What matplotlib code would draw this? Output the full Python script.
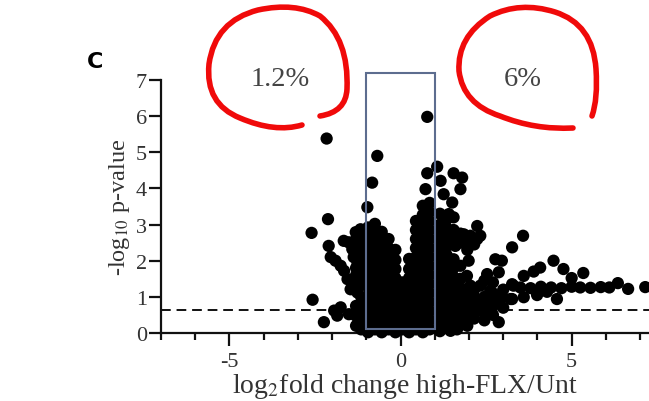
import matplotlib
matplotlib.use("Agg")
import matplotlib.pyplot as plt
from matplotlib.patches import Rectangle, PathPatch
from matplotlib.path import Path
from matplotlib.ticker import MultipleLocator

plt.rcParams['font.family'] = ['Liberation Serif', 'DejaVu Serif']
plt.rcParams['mathtext.fontset'] = 'stix'
plt.rcParams['axes.unicode_minus'] = False

# scattered genes left of the central box (log2 FC, -log10 p)
left_x = [-2.16, -2.12, -2.6, -2.1, -2.04, -1.9, -1.75, -1.65, -1.55, -1.46,
          -1.66, -1.52, -1.41, -1.37, -1.26, -1.22, -1.41, -1.37, -1.26, -1.31,
          -1.17, -2.57, -2.24, -1.94, -1.75, -1.85, -1.51, -1.31, -1.12, -1.12,
          -1.07, -0.83, -0.68, -0.97]
left_y = [5.38, 3.15, 2.77, 2.41, 2.1, 2.0, 1.86, 1.72, 1.49, 1.21,
          2.55, 2.51, 2.32, 2.1, 1.96, 1.77, 1.44, 1.26, 1.12, 2.79,
          2.87, 0.92, 0.3, 0.62, 0.71, 0.48, 0.52, 0.48, 0.86, 0.58,
          0.3, 4.16, 4.9, 3.48]

# dense non-significant core, listed column by column
core_cols = [
    (-1.3, [0.2, 0.75, 1.6, 1.8, 2.3, 2.6]),
    (-1.15, [0.1, 0.35, 0.6, 1.0, 1.35, 1.6, 1.9, 2.2, 2.5, 2.75]),
    (-0.95, [0.02, 0.27, 0.52, 0.77, 1.02, 1.27, 1.52, 1.77, 2.02, 2.27, 2.52, 2.77, 2.92]),
    (-0.75, [0.1, 0.35, 0.6, 0.85, 1.1, 1.35, 1.6, 1.85, 2.1, 2.35, 2.6, 2.85, 3.02]),
    (-0.55, [0.02, 0.27, 0.52, 0.77, 1.02, 1.27, 1.52, 1.77, 2.02, 2.27, 2.52, 2.8]),
    (-0.35, [0.1, 0.35, 0.6, 0.85, 1.1, 1.35, 1.6, 1.85, 2.1, 2.35, 2.6]),
    (-0.15, [0.02, 0.27, 0.52, 0.77, 1.02, 1.27, 1.52, 1.77, 2.02, 2.3]),
    (0.05, [0.1, 0.35, 0.6, 0.85, 1.1, 1.4]),
    (0.25, [0.02, 0.27, 0.52, 0.77, 1.02, 1.27, 1.52, 1.77, 2.05]),
    (0.45, [0.1, 0.35, 0.6, 0.85, 1.1, 1.35, 1.6, 1.85, 2.1, 2.35, 2.6, 2.85, 3.1]),
    (0.65, [0.02, 0.27, 0.52, 0.77, 1.02, 1.27, 1.52, 1.77, 2.02, 2.27, 2.52, 2.77, 3.02, 3.27, 3.52]),
    (0.85, [0.1, 0.35, 0.6, 0.85, 1.1, 1.35, 1.6, 1.85, 2.1, 2.35, 2.6, 2.85, 3.1, 3.35, 3.6]),
    (1.15, [0.05, 0.25, 0.5, 0.75, 1.0, 1.25, 1.5, 1.75, 2.0, 2.25, 2.5, 2.75, 3.0, 3.3]),
    (1.35, [0.15, 0.4, 0.65, 0.9, 1.15, 1.4, 1.65, 1.9, 2.15, 2.4, 2.65, 2.9, 3.15]),
    (1.55, [0.3, 0.55, 0.8, 1.05, 1.3, 1.55, 1.8, 2.6, 2.85]),
    (1.75, [0.25, 0.5, 0.75, 1.0, 1.25, 1.5, 2.5, 2.75]),
    (1.95, [0.2, 0.7, 0.95, 1.2, 2.3, 2.55]),
    (2.15, [0.4, 0.8, 1.2, 2.45]),
    (2.45, [0.35, 0.55, 1.0, 1.45]),
    (2.7, [0.5, 0.75, 1.1, 1.4]),
    (3.0, [0.7, 1.2]),
]

# scattered genes right of the box
right_x = [0.78, 1.07, 0.78, 1.17, 1.55, 1.8, 0.73, 1.75, 1.26, 1.51,
           1.41, 1.55, 2.24, 1.85, 2.04, 2.24, 2.33, 3.26, 3.58, 1.99,
           2.77, 2.87, 2.53, 2.33, 2.62, 2.92, 3.21, 3.3, 2.87, 1.46,
           1.65, 1.6, 1.55, 1.75, 1.94, 2.04, 2.14, 2.33, 2.53, 2.96,
           3.26, 4.47, 4.76, 5.34, 5.0, 4.08, 3.89, 3.6,
           3.5, 3.8, 4.1, 4.4, 4.7, 5.0, 5.25, 5.55, 5.85, 6.1, 6.35, 6.65, 7.15,
           2.96, 3.26, 3.6, 3.99, 4.28, 4.57, 2.82, 2.53, 2.33, 2.14, 1.94]
right_y = [5.98, 4.6, 4.42, 4.21, 4.42, 4.3, 3.98, 3.98, 3.84, 3.61,
           3.29, 3.2, 2.96, 2.73, 2.69, 2.6, 2.69, 2.37, 2.69, 2.0,
           2.04, 1.68, 1.63, 1.31, 1.17, 1.03, 0.94, 1.31, 0.3, 0.06,
           0.1, 2.41, 2.04, 1.86, 1.58, 1.31, 1.03, 0.85, 0.66, 2.0,
           1.35, 2.0, 1.77, 1.66, 1.52, 1.81, 1.7, 1.58,
           1.26, 1.24, 1.28, 1.26, 1.24, 1.28, 1.26, 1.25, 1.27, 1.26, 1.38, 1.22, 1.27,
           0.99, 0.94, 0.99, 1.05, 1.14, 0.94, 0.94, 0.85, 0.71, 0.57, 0.48]

p_cutoff = 0.65
box_fc = (-1.0, 1.0)
box_top = 7.2
left_pct = "1.2%"
right_pct = "6%"

core_x = [cx for cx, ys in core_cols for _ in ys]
core_y = [y for _, ys in core_cols for y in ys]

W, H = 649, 402
fig = plt.figure(figsize=(W / 100, H / 100), dpi=100)
ax = fig.add_axes([161 / W, 68 / H, 488 / W, 253 / H])


def fpt(x, y):
    # pixel position (from top-left) to figure fraction
    return x / W, 1 - y / H


txt = '#333333'
ax.axhline(p_cutoff, color='#111111', lw=1.4, ls=(0, (5, 3)), zorder=1)
ax.add_patch(Rectangle((box_fc[0], 0.1), box_fc[1] - box_fc[0], box_top - 0.1,
                       fill=False, ec='#5d6d8f', lw=1.5, zorder=4, clip_on=False))
for xs, ys in [(core_x, core_y), (left_x, left_y), (right_x, right_y)]:
    ax.scatter(xs, ys, s=78, c='black', edgecolors='none', zorder=3, clip_on=False)

ax.set_xlim(-7, 7.26)
ax.set_ylim(0, 7)
for side in ['top', 'right']:
    ax.spines[side].set_visible(False)
for side in ['left', 'bottom']:
    ax.spines[side].set_linewidth(1.6)
    ax.spines[side].set_color('#111111')
ax.xaxis.set_major_locator(MultipleLocator(5))
ax.xaxis.set_minor_locator(MultipleLocator(1))
ax.yaxis.set_major_locator(MultipleLocator(1))
ax.tick_params(axis='both', which='major', length=9, width=1.6, color='#111111',
               labelsize=16, labelcolor=txt)
ax.tick_params(axis='x', which='minor', length=5, width=1.6, color='#111111')
ax.tick_params(axis='x', pad=5)
ax.tick_params(axis='y', pad=1)

ax.set_xlabel(r"log$_2$fold change high-FLX/Unt", fontsize=20, color=txt, labelpad=0)
ax.set_ylabel(r"-log$_{10}$ p-value", fontsize=17.5, color=txt, labelpad=3)

fig.text(*fpt(280, 80), left_pct, fontsize=20.5, color='#444444', ha='center', va='center')
fig.text(*fpt(523, 80), right_pct, fontsize=20.5, color='#444444', ha='center', va='center')
fig.text(*fpt(95, 62), "C", fontsize=16, fontweight='bold', family=['DejaVu Sans'],
         ha='center', va='center')

# hand-drawn red loops round the percentages
loops = [
    [(320, 117), (346, 113), (347, 90), (349, 40), (320, 17), (295, 3), (258, 11),
     (215, 22), (209, 65), (205, 105), (240, 119), (275, 134), (302, 126)],
    [(592, 117), (598, 100), (596, 70), (593, 25), (555, 13), (520, 2), (490, 17),
     (457, 38), (459, 72), (463, 105), (500, 117), (535, 131), (573, 129)],
]
for pts in loops:
    verts = [fpt(x, y) for x, y in pts]
    codes = [Path.MOVETO] + [Path.CURVE3] * (len(verts) - 1)
    fig.add_artist(PathPatch(Path(verts, codes), transform=fig.transFigure, fill=False,
                             ec='#f00a0a', lw=4, capstyle='round', joinstyle='round'))

fig.savefig("out.png", dpi=100)
